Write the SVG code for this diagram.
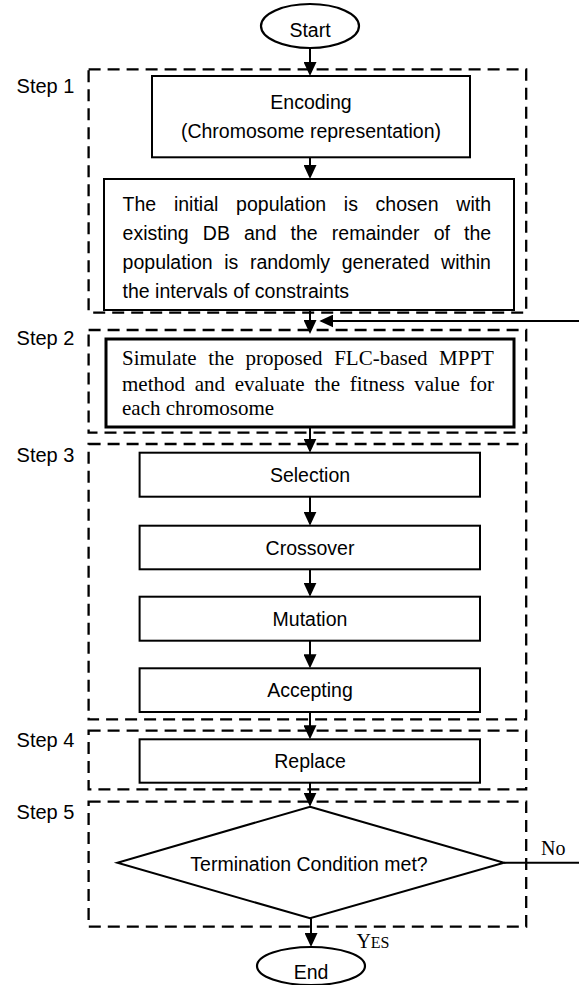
<svg xmlns="http://www.w3.org/2000/svg" width="579" height="985" viewBox="0 0 579 985">
<style>
.bg{fill:#fff}
.step{fill:none;stroke:#000;stroke-width:2.3;stroke-dasharray:12 7}
.box{fill:#fff;stroke:#000;stroke-width:2}
.thick{fill:#fff;stroke:#000;stroke-width:3}
.term{fill:#fff;stroke:#000;stroke-width:2.2}
.sans{font-family:"Liberation Sans",Arial,sans-serif;font-size:19.5px;fill:#000}
.lbl{font-family:"Liberation Sans",Arial,sans-serif;font-size:20px;fill:#000}
.serif{font-family:"Liberation Serif","Times New Roman",serif;font-size:21px;fill:#000}
.c{text-anchor:middle}
.conn{fill:none;stroke:#000;stroke-width:2}
</style>
<defs>
<marker id="ah" markerUnits="userSpaceOnUse" markerWidth="14" markerHeight="13" refX="12" refY="6.5" orient="auto">
<path d="M0,0 L14,6.5 L0,13 z" fill="#000"/>
</marker>
</defs>
<rect class="bg" x="0" y="0" width="579" height="985"/>

<g id="steps">
<rect id="step1" class="step" x="88.6" y="69.3" width="437.6" height="243.4"/>
<rect id="step2" class="step" x="88.6" y="330" width="437.6" height="102.7"/>
<rect id="step3" class="step" x="88.6" y="444" width="437.6" height="275.3"/>
<rect id="step4" class="step" x="88.6" y="730.7" width="437.6" height="58.6"/>
<rect id="step5" class="step" x="88.6" y="801.7" width="437.6" height="125"/>
<text class="lbl" x="16.6" y="92.7">Step 1</text>
<text class="lbl" x="16.6" y="345">Step 2</text>
<text class="lbl" x="16.6" y="461.7">Step 3</text>
<text class="lbl" x="16.6" y="746.7">Step 4</text>
<text class="lbl" x="16.6" y="819">Step 5</text>
</g>

<g id="connectors">
<line class="conn" x1="310" y1="48" x2="310" y2="74" marker-end="url(#ah)"/>
<line class="conn" x1="310" y1="157" x2="310" y2="177" marker-end="url(#ah)"/>
<line class="conn" x1="310" y1="310" x2="310" y2="332" marker-end="url(#ah)"/>
<line class="conn" x1="579" y1="321" x2="321.3" y2="321" marker-end="url(#ah)"/>
<line class="conn" x1="310" y1="427" x2="310" y2="450.7" marker-end="url(#ah)"/>
<line class="conn" x1="310" y1="496.7" x2="310" y2="523.7" marker-end="url(#ah)"/>
<line class="conn" x1="310" y1="569.3" x2="310" y2="594.7" marker-end="url(#ah)"/>
<line class="conn" x1="310" y1="640.7" x2="310" y2="666.3" marker-end="url(#ah)"/>
<line class="conn" x1="310" y1="712" x2="310" y2="737.3" marker-end="url(#ah)"/>
<line class="conn" x1="310" y1="782.7" x2="310" y2="804.7" marker-end="url(#ah)"/>
<line class="conn" x1="311" y1="918.3" x2="311" y2="945" marker-end="url(#ah)"/>
<line class="conn" x1="504" y1="862.7" x2="579" y2="862.7"/>
<text font-family="Liberation Serif,'Times New Roman',serif" font-size="20" x="541" y="855">No</text>
<text font-family="Liberation Serif,'Times New Roman',serif" x="356.4" y="948"><tspan font-size="20">Y</tspan><tspan font-size="16">ES</tspan></text>
</g>

<g id="start">
<ellipse class="term" cx="310" cy="26" rx="49" ry="22"/>
<text class="sans c" x="310" y="36.5">Start</text>
</g>

<g id="encoding">
<rect class="box" x="152" y="76" width="318" height="81.3"/>
<text class="sans c" x="311" y="109.3">Encoding</text>
<text class="sans c" x="311" y="138.3">(Chromosome representation)</text>
</g>

<g id="init">
<rect class="box" x="104" y="179" width="410" height="131"/>
<text class="sans" y="210.7"><tspan x="122.6">The</tspan><tspan x="173.9">initial</tspan><tspan x="236.1">population</tspan><tspan x="343.8">is</tspan><tspan x="375.6">chosen</tspan><tspan x="456.3">with</tspan></text>
<text class="sans" y="240"><tspan x="122.6">existing</tspan><tspan x="202.8">DB</tspan><tspan x="244">and</tspan><tspan x="290.6">the</tspan><tspan x="331.8">remainder</tspan><tspan x="433.7">of</tspan><tspan x="464">the</tspan></text>
<text class="sans" y="269.3"><tspan x="122.6">population</tspan><tspan x="224.2">is</tspan><tspan x="249.9">randomly</tspan><tspan x="341.7">generated</tspan><tspan x="441.1">within</tspan></text>
<text class="sans" x="122.6" y="298.3">the intervals of constraints</text>
</g>

<g id="simulate">
<rect class="thick" x="106" y="339" width="408" height="88"/>
<text class="serif" y="365"><tspan x="122">Simulate</tspan><tspan x="208.3">the</tspan><tspan x="245.6">proposed</tspan><tspan x="334.2">FLC-based</tspan><tspan x="439.1">MPPT</tspan></text>
<text class="serif" y="390.7"><tspan x="122">method</tspan><tspan x="194.7">and</tspan><tspan x="234.7">evaluate</tspan><tspan x="314.4">the</tspan><tspan x="349.8">fitness</tspan><tspan x="414.3">value</tspan><tspan x="469.5">for</tspan></text>
<text class="serif" x="122" y="415">each chromosome</text>
</g>

<g id="selection">
<rect class="box" x="139.6" y="452.7" width="340.4" height="44"/>
<text class="sans c" x="310" y="481.7">Selection</text>
</g>

<g id="crossover">
<rect class="box" x="139.6" y="525.7" width="340.4" height="43.6"/>
<text class="sans c" x="310" y="554.5">Crossover</text>
</g>

<g id="mutation">
<rect class="box" x="139.6" y="596.7" width="340.4" height="44"/>
<text class="sans c" x="310" y="625.7">Mutation</text>
</g>

<g id="accepting">
<rect class="box" x="139.6" y="668.3" width="340.4" height="43.7"/>
<text class="sans c" x="310" y="697">Accepting</text>
</g>

<g id="replace">
<rect class="box" x="139.6" y="739.3" width="340.4" height="43.4"/>
<text class="sans c" x="310" y="768">Replace</text>
</g>

<g id="termination">
<polygon class="box" points="310,806.7 504,862.7 310,918.3 117.4,862.7"/>
<text class="sans c" x="309" y="870.7">Termination Condition met?</text>
</g>

<g id="end">
<ellipse class="term" cx="311" cy="966" rx="54" ry="19"/>
<text class="sans c" x="311" y="979">End</text>
</g>
</svg>
